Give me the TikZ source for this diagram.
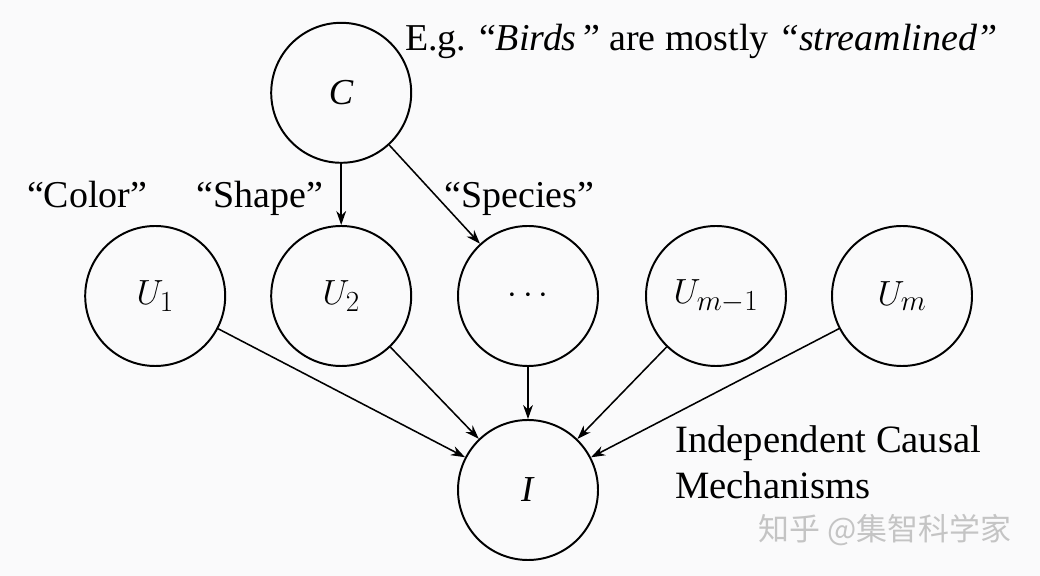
\documentclass[tikz,border=0pt]{standalone}
\usepackage{fontspec}
\setmainfont{Liberation Serif}
\newfontfamily\cjkfont{Noto Sans CJK SC}
\DeclareMathSizes{26}{26}{20}{16}
\usetikzlibrary{arrows.meta}
\definecolor{bgcol}{RGB}{250,250,251}
\definecolor{markgray}{RGB}{196,196,196}

\begin{document}
\begin{tikzpicture}[thick,>={Stealth[length=10pt,width=7pt]},
                    main node/.style={circle,draw,line width=1.4pt,minimum size=3.5cm,inner sep=0pt,
                                      font=\fontsize{26}{30}\selectfont},
                    cause text/.style={anchor=base,font=\fontsize{27}{32}\selectfont},
                    arrow/.style={->,line width=1.1pt}
                   ]
      \fill[bgcol] (0,0) rectangle (26,14.4);
      \useasboundingbox (0,0) rectangle (26,14.4);
      \node[main node] (C) at (8.53,12.08) {\textit{C}};
      \node[main node] (U1) at (3.88,7.00) {$U_1$};
      \node[main node] (U2) at (8.53,7.00) {$U_2$};
      \node[main node] (Ud) at (13.20,7.00) {$\cdots$};
      \node[main node] (Um1) at (17.90,7.00) {$U_{m-1}$};
      \node[main node] (Um) at (22.55,7.00) {$U_m$};
      \node[main node] (I) at (13.20,2.15) {\textit{I}};
      % text around the graph
      \node[cause text,anchor=base west] (eg) at (10.00,13.13)
           {E.g. ``\textit{Birds}\,'' are mostly \textit{``streamlined''}};
      \node[cause text] (color) at (2.18,9.20) {``Color''};
      \node[cause text] (shape) at (6.50,9.20) {``Shape''};
      \node[cause text] (species) at (12.98,9.20) {``Species''};
      \node[anchor=base west,align=left,font=\fontsize{27.5}{32.7}\selectfont] (icm) at (16.75,1.93)
           {Independent Causal\\Mechanisms};
      \node[text=markgray,font=\cjkfont\fontsize{22}{26}\selectfont] (mark) at (22.13,1.15) {知乎 @集智科学家};
      \path[arrow]%
        (C) edge (U2)
        (C) edge (Ud)
        (U1) edge (I)
        (U2) edge (I)
        (Ud) edge (I)
        (Um1) edge (I)
        (Um) edge (I);
 \end{tikzpicture}
\end{document}
